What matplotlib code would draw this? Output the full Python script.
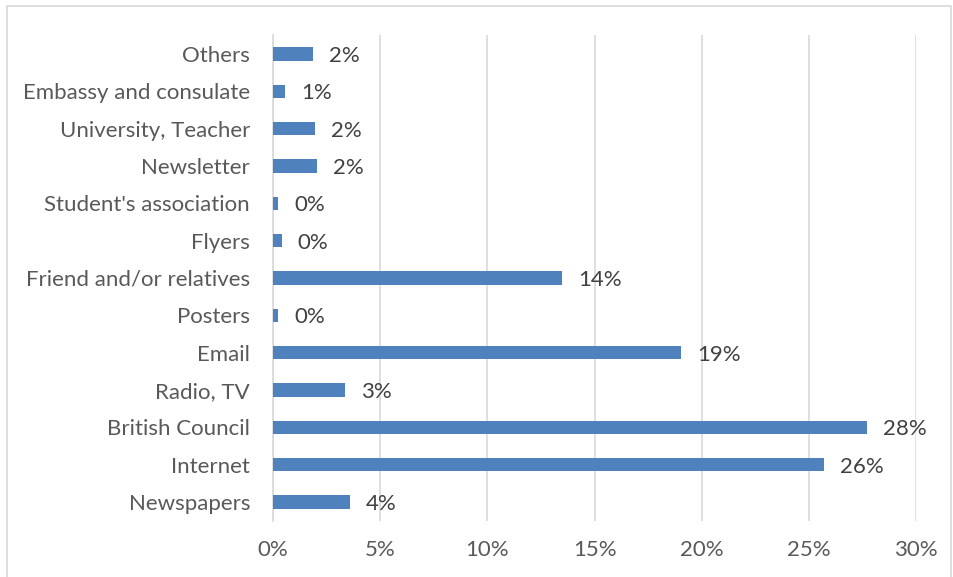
import numpy as np
import matplotlib.pyplot as plt
from matplotlib.patches import Rectangle

# Categories listed bottom to top, as in the source spreadsheet
sources = ['Newspapers', 'Internet', 'British Council', 'Radio, TV', 'Email',
           'Posters', 'Friend and/or relatives', 'Flyers', "Student's association",
           'Newsletter', 'University, Teacher', 'Embassy and consulate', 'Others']
share = [3.6, 25.7, 27.7, 3.35, 19.05, 0.25, 13.5, 0.4, 0.25, 2.04, 1.96, 0.56, 1.88]
x_ticks = [0, 5, 10, 15, 20, 25, 30]

bar_colour = '#4f81bd'
text_colour = '#595959'
grid_colour = '#d9d9d9'

plt.rcParams['font.family'] = ['Lato', 'DejaVu Sans']

fig = plt.figure(figsize=(9.54, 5.77), dpi=100)
ax = fig.add_axes([0.2862, 0.0976, 0.674, 0.8412])

y_pos = np.arange(len(sources))
ax.barh(y_pos, share, height=0.35, color=bar_colour, zorder=3)

for y, v in zip(y_pos, share):
   ax.annotate('{:.0f}%'.format(v), xy=(v, y), xytext=(11.5, -1.5),
               textcoords='offset points', va='center', ha='left',
               fontsize=16, color='#404040')

ax.set_xlim(0, 30)
ax.set_ylim(-0.5, len(sources) - 0.5)
ax.set_xticks(x_ticks)
ax.set_xticklabels(['{}%'.format(t) for t in x_ticks])
ax.set_yticks(y_pos)
ax.set_yticklabels(sources)
ax.tick_params(axis='both', length=0, labelsize=16, labelcolor=text_colour)
ax.tick_params(axis='x', pad=14)
ax.tick_params(axis='y', pad=16.5)

ax.grid(axis='x', color=grid_colour, linewidth=1.2, zorder=0)
for side in ['top', 'right', 'bottom']:
   ax.spines[side].set_visible(False)
ax.spines['left'].set_color(grid_colour)
ax.spines['left'].set_linewidth(1.2)

# light frame round the whole chart
fig.patches.append(Rectangle((7 / 954, -0.01), 944 / 954, 1 - 6 / 577 + 0.01,
                             transform=fig.transFigure, fill=False,
                             edgecolor=grid_colour, linewidth=1.2))

fig.savefig('out.png', dpi=100)
